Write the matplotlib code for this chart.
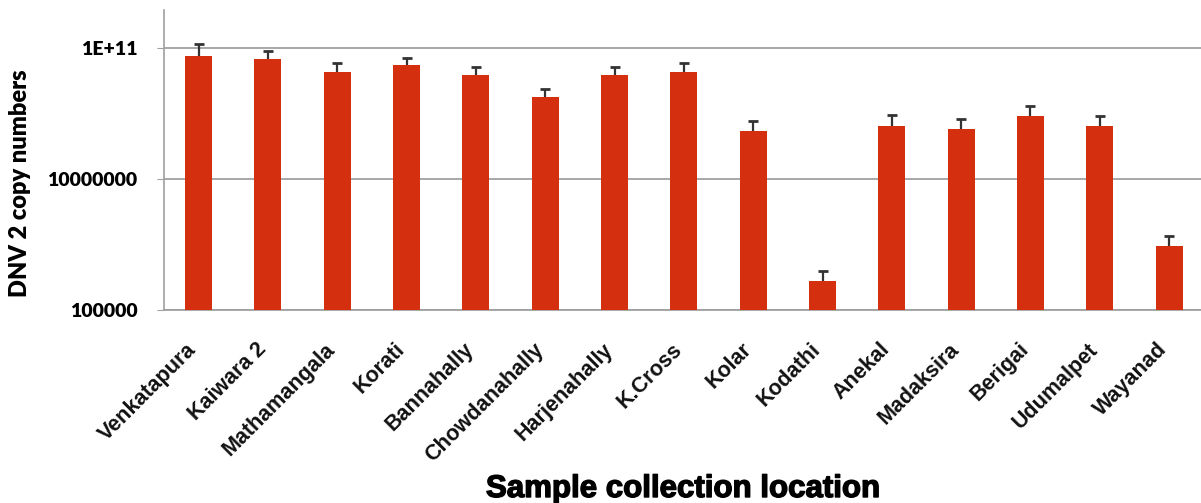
import numpy as np
import matplotlib.pyplot as plt
import matplotlib.patheffects as pe
from matplotlib.transforms import ScaledTranslation
from matplotlib.ticker import FixedLocator, FixedFormatter

locations = ['Venkatapura', 'Kaiwara 2', 'Mathamangala', 'Korati', 'Bannahally',
             'Chowdanahally', 'Harjenahally', 'K.Cross', 'Kolar', 'Kodathi',
             'Anekal', 'Madaksira', 'Berigai', 'Udumalpet', 'Wayanad']
copies = [7.6e8, 6.9e8, 4.4e8, 5.6e8, 3.9e8,
          1.8e8, 3.9e8, 4.4e8, 5.5e7, 2.8e5,
          6.5e7, 5.9e7, 9.3e7, 6.5e7, 9.5e5]
sd = [4.1e8, 2.2e8, 1.5e8, 1.6e8, 1.3e8,
      0.6e8, 1.3e8, 1.5e8, 2.4e7, 1.2e5,
      3.0e7, 2.4e7, 3.9e7, 2.6e7, 4.0e5]
ytick_vals = [1e5, 1e7, 1e9]
ytick_labels = ['100000', '10000000', '1E+11']

fig = plt.figure(figsize=(12.01, 5.03), dpi=100)
ax = fig.add_axes([164 / 1201, 1 - 310.3 / 503, 1 - 164 / 1201, 300.3 / 503])

x = np.arange(len(locations))
bars = ax.bar(x, copies, width=0.39, color='#d4300f', zorder=3,
              yerr=[np.zeros(len(sd)), sd],
              error_kw=dict(ecolor='#333333', elinewidth=1.6, capsize=3.8,
                            capthick=2.0, zorder=4))
# only the upper whisker gets a cap
bars.errorbar.lines[1][0].set_visible(False)

ax.set_yscale('log')
ax.set_ylim(1e5, 10 ** 9.585)
ax.set_xlim(-0.5, 14.46)
ax.yaxis.set_major_locator(FixedLocator(ytick_vals))
ax.yaxis.set_major_formatter(FixedFormatter(ytick_labels))
ax.yaxis.set_minor_locator(FixedLocator([]))
ax.grid(axis='y', color='#a0a0a0', linewidth=1.3, zorder=0)

for s in ['top', 'right']:
    ax.spines[s].set_visible(False)
ax.spines['left'].set_color('#a0a0a0')
ax.spines['bottom'].set_color('#a0a0a0')
ax.spines['left'].set_linewidth(1.2)
ax.spines['bottom'].set_linewidth(1.3)

ax.tick_params(axis='y', length=5, color='#a0a0a0', pad=14)
ax.tick_params(axis='x', length=0, pad=26)
for lab in ax.get_yticklabels():
    lab.set_fontfamily('Lato')
    lab.set_fontweight('heavy')
    lab.set_fontsize(14)

ax.set_xticks(x)
ax.set_xticklabels(locations, rotation=45, ha='right', va='center',
                   rotation_mode='anchor', fontfamily='Liberation Sans',
                   fontweight='bold', fontsize=15.5, color='#111111')
shift = ScaledTranslation(-5 / 100, 0, fig.dpi_scale_trans)
for lab in ax.get_xticklabels():
    lab.set_transform(lab.get_transform() + shift)

ax.set_ylabel('DNV 2 copy numbers', fontfamily='Lato', fontweight='heavy',
              fontsize=17, va='center')
ax.yaxis.set_label_coords(-(164 - 20) / 1037, (310.3 - 183) / 300.3)
fig.text(683 / 1201, 1 - 489 / 503, 'Sample collection location', ha='center', va='center',
         fontfamily='Liberation Sans', fontweight='bold', fontsize=22.5,
         path_effects=[pe.withStroke(linewidth=1.0, foreground='black')])

fig.savefig('out.png', dpi=100)
